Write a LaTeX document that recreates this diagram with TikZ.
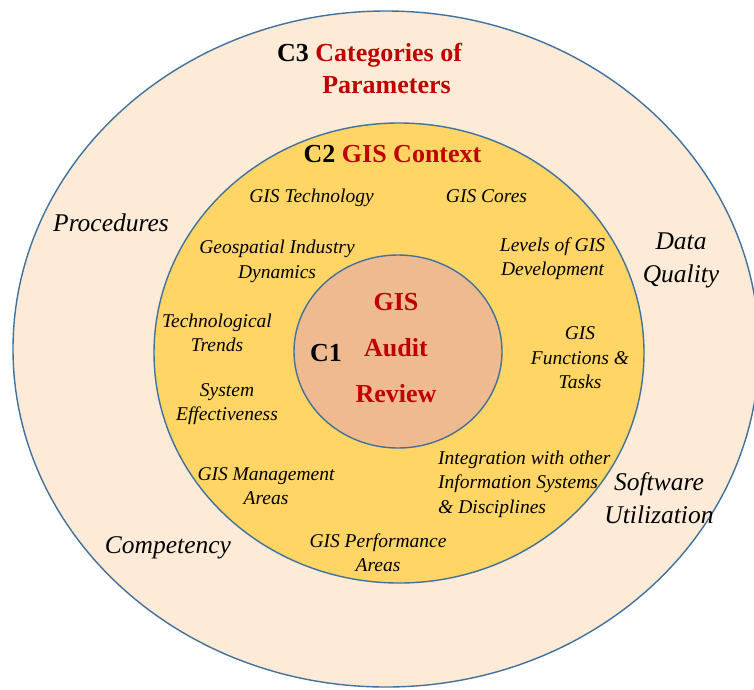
\documentclass[tikz,border=0pt]{standalone}
\usepackage{fontspec}
\setmainfont{Liberation Serif}
\definecolor{ringout}{RGB}{253,235,215}
\definecolor{ringmid}{RGB}{255,213,102}
\definecolor{corefill}{RGB}{240,186,144}
\definecolor{edgeblue}{RGB}{65,113,156}
\definecolor{titlered}{RGB}{192,0,0}

\begin{document}
\begin{tikzpicture}[x=1pt,y=-1pt,
  ring/.style={draw=edgeblue, line width=1.4pt},
  outerlbl/.style={font=\fontsize{25.5}{33}\selectfont\itshape, align=center, inner sep=0pt},
  innerlbl/.style={font=\fontsize{19.5}{24.5}\selectfont\itshape, align=center, inner sep=0pt},
  headlbl/.style={font=\fontsize{26}{34}\selectfont\bfseries, text=titlered, align=center, inner sep=0pt},
  taglbl/.style={font=\fontsize{26}{34}\selectfont\bfseries, text=black, inner sep=0pt},
]
\useasboundingbox (0,0) rectangle (754,689);
\fill[white] (0,0) rectangle (754,689);

% three nested rings
\draw[ring, fill=ringout]  (386,349)   ellipse [x radius=373, y radius=338];
\draw[ring, fill=ringmid]  (399,353)   ellipse [x radius=245, y radius=230];
\draw[ring, fill=corefill] (398,351.5) ellipse [x radius=104, y radius=96.5];

% C3: categories of parameters
\node[headlbl, anchor=base] (c3a) at (369.5,61) {{\color{black}C3} Categories of};
\node[headlbl, anchor=base] (c3b) at (386.5,93) {Parameters};
\node[outerlbl, anchor=base] (proc) at (111,231.5) {Procedures};
\node[outerlbl, anchor=base] (comp) at (168,553.5) {Competency};
\node[outerlbl] (dq) at (681,260.5) {Data\\Quality};
\node[outerlbl] (sw) at (659,498.5) {Software\\Utilization};

% C2: GIS context
\node[headlbl, anchor=base] (c2) at (392.5,162) {{\color{black}C2} GIS Context};
\node[innerlbl, anchor=base] (tech) at (311.5,202) {GIS Technology};
\node[innerlbl, anchor=base] (cores) at (486.5,202) {GIS Cores};
\node[innerlbl] (geo) at (277,261.5) {Geospatial Industry\\Dynamics};
\node[innerlbl] (lvl) at (552.5,258.5) {Levels of GIS\\Development};
\node[innerlbl] (trend) at (217,333) {Technological\\Trends};
\node[innerlbl] (eff) at (227,404) {System\\Effectiveness};
\node[innerlbl] (func) at (580,358) {GIS\\Functions \&\\Tasks};
\node[innerlbl] (mgmt) at (266,486) {GIS Management\\Areas};
\node[innerlbl, align=left, anchor=west] (integ) at (438,484) {Integration with other\\Information Systems\\\& Disciplines};
\node[innerlbl] (perf) at (378,552.5) {GIS Performance\\Areas};

% C1: GIS audit review
\node[taglbl, anchor=base] (c1) at (326,361) {C1};
\node[headlbl, font=\fontsize{26}{46}\selectfont\bfseries] (core) at (396,348) {GIS\\Audit\\Review};
\end{tikzpicture}
\end{document}
